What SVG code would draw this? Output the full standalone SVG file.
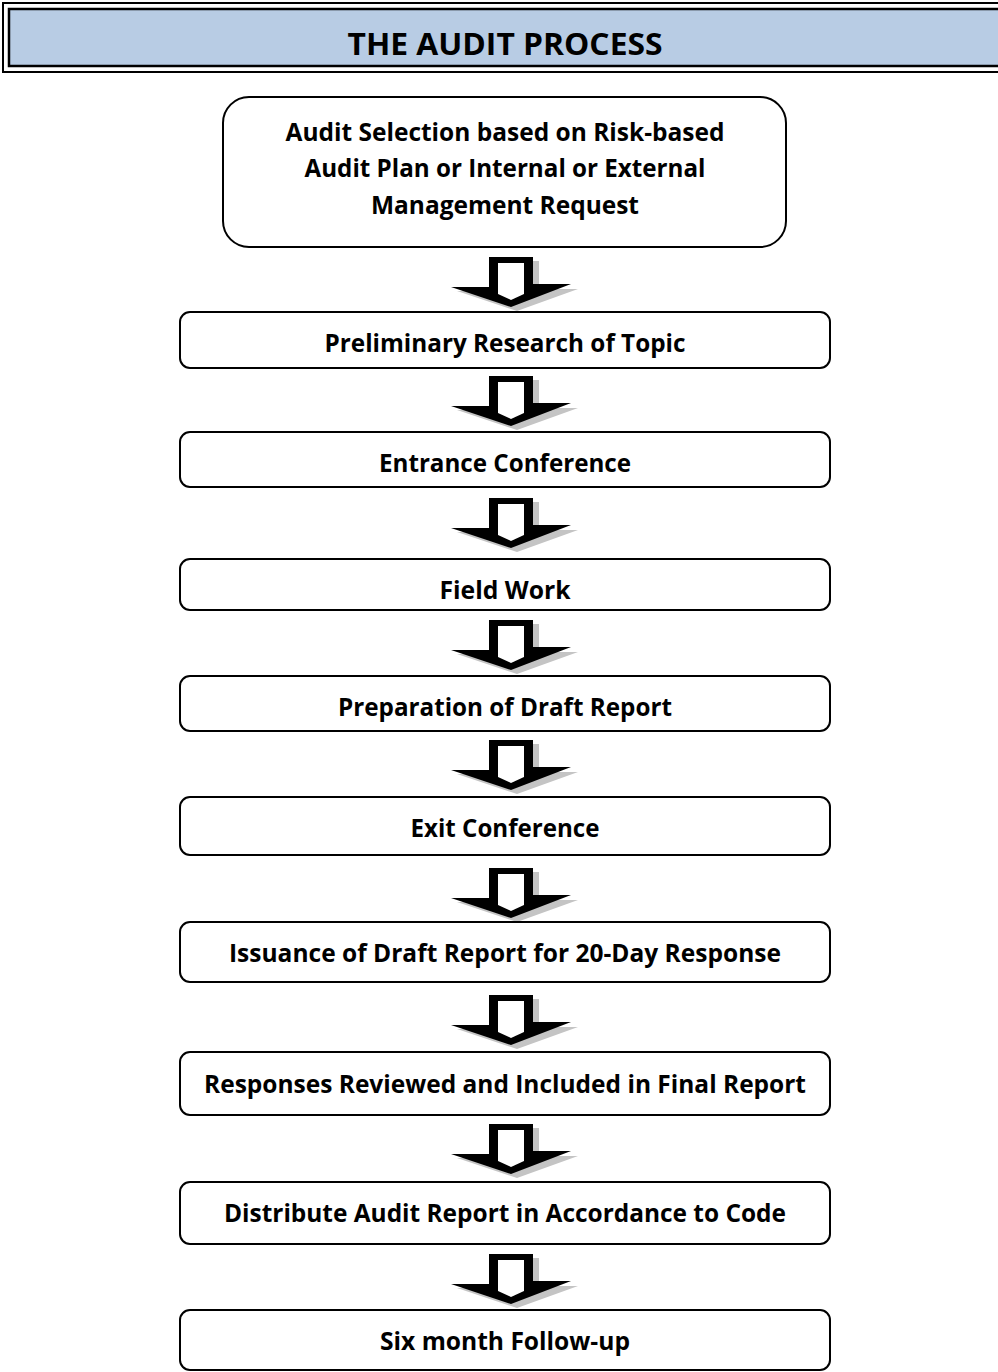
<svg xmlns="http://www.w3.org/2000/svg" xmlns:xlink="http://www.w3.org/1999/xlink" width="998" height="1372" viewBox="0 0 998 1372">
<style>
.box{fill:#fff;stroke:#000;stroke-width:2}
.lbl{font-family:"Open Sans",Lato,"Liberation Sans",sans-serif;font-weight:bold;font-size:25px;fill:#000;text-anchor:middle}
.title{font-family:"Open Sans",Lato,"Liberation Sans",sans-serif;font-weight:bold;font-size:30px;fill:#000;text-anchor:middle}
</style>
<defs>
<g id="arrow">
<path d="M-16,4 H28 V32 H67 L6,54 L-54,34 H-16 Z" fill="#c4c4c4"/>
<path d="M-22,0 H22 V27 H60 L0,50 L-60,30 H-22 Z" fill="#000"/>
<path d="M-13,6 H13 V37 L0,43 L-13,37 Z" fill="#fff"/>
</g>
</defs>
<rect width="998" height="1372" fill="#fff"/>
<g id="header">
<rect x="3" y="3" width="1010" height="69" fill="#fff" stroke="#000" stroke-width="2"/>
<rect x="9" y="9" width="1000" height="57" fill="#b8cce4" stroke="#000" stroke-width="2.5"/>
<text class="title" x="505" y="55" textLength="315" lengthAdjust="spacingAndGlyphs">THE AUDIT PROCESS</text>
</g>
<g id="connectors">
<use xlink:href="#arrow" transform="translate(511,257)"/>
<use xlink:href="#arrow" transform="translate(511,376)"/>
<use xlink:href="#arrow" transform="translate(511,498)"/>
<use xlink:href="#arrow" transform="translate(511,620)"/>
<use xlink:href="#arrow" transform="translate(511,740)"/>
<use xlink:href="#arrow" transform="translate(511,868)"/>
<use xlink:href="#arrow" transform="translate(511,995)"/>
<use xlink:href="#arrow" transform="translate(511,1124)"/>
<use xlink:href="#arrow" transform="translate(511,1254)"/>
</g>
<g id="n1">
<rect class="box" x="223" y="97" width="563" height="150" rx="26"/>
<text class="lbl" x="505" y="141" textLength="439" lengthAdjust="spacingAndGlyphs">Audit Selection based on Risk-based</text>
<text class="lbl" x="505" y="177" textLength="401" lengthAdjust="spacingAndGlyphs">Audit Plan or Internal or External</text>
<text class="lbl" x="505" y="214" textLength="268" lengthAdjust="spacingAndGlyphs">Management Request</text>
</g>
<g id="n2">
<rect class="box" x="180" y="312" width="650" height="56" rx="10"/>
<text class="lbl" x="505" y="352" textLength="361" lengthAdjust="spacingAndGlyphs">Preliminary Research of Topic</text>
</g>
<g id="n3">
<rect class="box" x="180" y="432" width="650" height="55" rx="10"/>
<text class="lbl" x="505" y="472" textLength="252" lengthAdjust="spacingAndGlyphs">Entrance Conference</text>
</g>
<g id="n4">
<rect class="box" x="180" y="559" width="650" height="51" rx="10"/>
<text class="lbl" x="505" y="599" textLength="131" lengthAdjust="spacingAndGlyphs">Field Work</text>
</g>
<g id="n5">
<rect class="box" x="180" y="676" width="650" height="55" rx="10"/>
<text class="lbl" x="505" y="716" textLength="334" lengthAdjust="spacingAndGlyphs">Preparation of Draft Report</text>
</g>
<g id="n6">
<rect class="box" x="180" y="797" width="650" height="58" rx="10"/>
<text class="lbl" x="505" y="837" textLength="189" lengthAdjust="spacingAndGlyphs">Exit Conference</text>
</g>
<g id="n7">
<rect class="box" x="180" y="922" width="650" height="60" rx="10"/>
<text class="lbl" x="505" y="962" textLength="552" lengthAdjust="spacingAndGlyphs">Issuance of Draft Report for 20-Day Response</text>
</g>
<g id="n8">
<rect class="box" x="180" y="1052" width="650" height="63" rx="10"/>
<text class="lbl" x="505" y="1093" textLength="602" lengthAdjust="spacingAndGlyphs">Responses Reviewed and Included in Final Report</text>
</g>
<g id="n9">
<rect class="box" x="180" y="1182" width="650" height="62" rx="10"/>
<text class="lbl" x="505" y="1222" textLength="562" lengthAdjust="spacingAndGlyphs">Distribute Audit Report in Accordance to Code</text>
</g>
<g id="n10">
<rect class="box" x="180" y="1310" width="650" height="60" rx="10"/>
<text class="lbl" x="505" y="1350" textLength="250" lengthAdjust="spacingAndGlyphs">Six month Follow-up</text>
</g>
</svg>
